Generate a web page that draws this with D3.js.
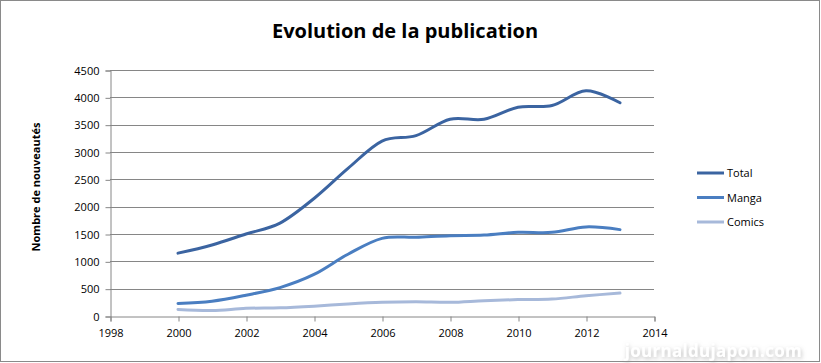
<!DOCTYPE html>
<html><head><meta charset="utf-8">
<script src="https://cdn.jsdelivr.net/npm/d3@7"></script>
<style>body{margin:0;background:#fff}svg{display:block}</style>
</head><body>
<svg id="c" width="821" height="363"></svg>
<script>
const years = [2000,2001,2002,2003,2004,2005,2006,2007,2008,2009,2010,2011,2012,2013];
const total = [1150,1300,1500,1700,2150,2700,3200,3300,3600,3600,3820,3850,4120,3900];
const manga = [230,270,380,520,760,1130,1420,1440,1470,1480,1530,1530,1630,1580];
const comics = [120,100,140,150,180,220,250,260,250,280,300,310,370,420];
const seriesNames = ["Total","Manga","Comics"];
const seriesColors = ["#3B64A1","#4A7EC1","#A7B9DA"];
const xTicks = [1998,2000,2002,2004,2006,2008,2010,2012,2014];
const yTicks = [0,500,1000,1500,2000,2500,3000,3500,4000,4500];

const svg = d3.select("#c");
const font = "'Open Sans', 'Liberation Sans', sans-serif";
svg.append("rect").attr("x",0.5).attr("y",0.5).attr("width",819).attr("height",361)
  .attr("fill","#fff").attr("stroke","#8a8a8a");

const x = d3.scaleLinear().domain([1998,2014]).range([110,654]);
const y = d3.scaleLinear().domain([0,4500]).range([316,70]);

// gridlines
svg.append("g").selectAll("line").data(yTicks.slice(1)).join("line")
  .attr("x1",x(1998)).attr("x2",x(2014))
  .attr("y1",d=>Math.round(y(d))+0.5).attr("y2",d=>Math.round(y(d))+0.5)
  .attr("stroke","#868686").attr("stroke-width",1);

// axes
const yAxis = d3.axisLeft(y).tickValues(yTicks).tickSize(5).tickPadding(6).tickFormat(d3.format("d"));
const gy = svg.append("g").attr("transform",`translate(${x(1998)+0.5},0.5)`).call(yAxis);
const xAxis = d3.axisBottom(x).tickValues(xTicks).tickSize(5).tickPadding(8).tickFormat(d3.format("d"));
const gx = svg.append("g").attr("transform",`translate(0.5,${Math.round(y(0))+0.5})`).call(xAxis);
[gx,gy].forEach(g=>{
  g.select(".domain").attr("stroke","#868686");
  g.selectAll(".tick line").attr("stroke","#868686");
  g.selectAll("text").attr("fill","#000").style("font-family",font).style("font-size","11px");
});

// lines
const data = [total,manga,comics];
const line = d3.line().x((d,i)=>x(years[i])).y(d=>y(d)).curve(d3.curveCatmullRom.alpha(0));
svg.append("g").selectAll("path").data(data).join("path")
  .attr("d",line).attr("fill","none")
  .attr("stroke",(d,i)=>seriesColors[i]).attr("stroke-width",3)
  .attr("stroke-linecap","round").attr("stroke-linejoin","round");

// title
svg.append("text").attr("x",405).attr("y",38).attr("text-anchor","middle")
  .style("font-family",font).style("font-size","20px").style("font-weight","bold")
  .text("Evolution de la publication");

// y title
svg.append("text").attr("transform","translate(40,187) rotate(-90)").attr("text-anchor","middle")
  .style("font-family",font).style("font-size","11px").style("font-weight","bold")
  .text("Nombre de nouveautés");

// legend
const lg = svg.append("g").selectAll("g").data(seriesNames).join("g")
  .attr("transform",(d,i)=>`translate(697,${173+i*24.5})`);
lg.append("line").attr("x1",0).attr("x2",27).attr("y1",0).attr("y2",0)
  .attr("stroke",(d,i)=>seriesColors[i]).attr("stroke-width",3);
lg.append("text").attr("x",30).attr("y",4).style("font-family",font).style("font-size","11px").text(d=>d);

// watermark
const defs = svg.append("defs");
const f = defs.append("filter").attr("id","sh").attr("x","-10%").attr("y","-50%").attr("width","120%").attr("height","200%");
f.append("feGaussianBlur").attr("in","SourceAlpha").attr("stdDeviation",2).attr("result","b");
f.append("feOffset").attr("in","b").attr("dx",1).attr("dy",2).attr("result","o");
f.append("feFlood").attr("flood-color","#999").attr("flood-opacity",0.6);
f.append("feComposite").attr("in2","o").attr("operator","in");
const m = f.append("feMerge"); m.append("feMergeNode"); m.append("feMergeNode").attr("in","SourceGraphic");
svg.append("text").attr("x",802).attr("y",357).attr("text-anchor","end")
  .attr("filter","url(#sh)").attr("fill","#fff")
  .style("font-family",font).style("font-size","17px").style("font-weight","bold").style("letter-spacing","0.3px")
  .text("journaldujapon.com");
</script>
</body></html>
